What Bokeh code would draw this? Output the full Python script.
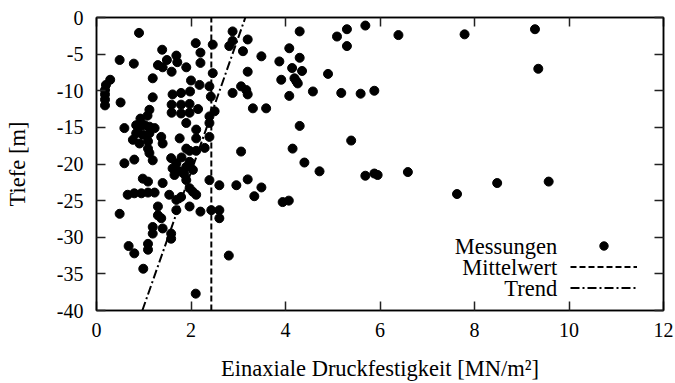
from bokeh.plotting import figure
from bokeh.models import Range1d, LinearAxis, FixedTicker, Legend, LegendItem, Label
from bokeh.embed import file_html
from bokeh.resources import INLINE

# ---- data ----
festigkeit = [
    0.90, 0.49, 0.79, 1.39, 1.49, 1.69, 1.71, 1.90, 1.30, 1.40, 1.59,
    2.10, 2.20, 2.20, 1.19, 0.29, 0.20, 0.18, 0.18, 0.18, 0.18, 0.51,
    1.19, 1.61, 1.79, 1.98, 2.00, 1.59, 1.79, 1.97, 1.12, 1.08, 0.93,
    1.59, 1.79, 1.97, 2.15,
    2.88, 2.88, 2.81, 3.20, 3.10, 2.46, 3.49, 3.87, 3.20, 3.91, 2.46,
    3.06, 3.17, 2.88, 3.20, 2.18, 2.39, 2.42, 3.31, 3.59, 2.50, 2.39,
    4.30, 5.09, 5.30, 5.69, 6.39, 7.79, 5.30, 4.08, 4.30, 4.14, 4.35,
    4.90, 4.19, 4.23, 4.26, 4.58, 4.08, 5.18, 5.59, 5.88, 4.30, 5.39, 4.15,
    9.28, 9.35, 7.63, 8.48, 9.57,
    4.40, 4.72, 5.69, 5.88, 5.95, 6.59, 3.94, 4.07,
    1.90, 2.11, 0.59, 0.84, 0.91, 1.02, 1.12, 1.23, 0.84, 0.98, 1.12,
    0.77, 0.91, 1.09, 1.37, 1.40, 1.09, 1.12, 1.19, 1.76, 1.90, 1.97,
    2.11, 2.11, 0.59, 0.80, 1.58, 1.69, 1.61, 1.76, 1.90, 1.97, 2.04,
    1.65, 1.80, 1.86, 0.98, 1.09, 1.40, 1.90, 1.97, 0.66, 0.80, 0.95,
    1.09, 1.23, 1.54, 1.69, 1.79, 2.11, 0.49, 1.30, 1.30, 1.69, 1.97,
    2.39, 2.39, 2.29, 3.06, 2.39, 2.60, 2.96, 3.20, 3.49, 3.34, 2.04,
    2.20, 2.43, 2.60, 2.60,
    1.37, 1.19, 1.40, 1.19, 1.58, 1.58, 0.68, 0.80, 1.09, 1.09, 0.99,
    2.10, 2.80,
]
tiefe = [
    -2.1, -5.8, -6.3, -4.4, -5.8, -5.2, -6.1, -6.8, -6.5, -6.8, -7.4,
    -3.5, -4.8, -6.2, -8.3, -8.5, -9.2, -9.9, -10.5, -11.2, -12.0, -11.6,
    -10.9, -10.5, -10.3, -10.1, -8.6, -11.9, -11.9, -11.8, -12.6, -13.4, -13.8,
    -13.0, -13.1, -13.0, -12.5,
    -1.9, -3.2, -3.9, -3.0, -4.6, -3.7, -5.3, -6.0, -7.4, -8.5, -7.6,
    -9.4, -9.9, -10.3, -10.5, -9.2, -9.4, -10.8, -12.4, -12.4, -12.8, -13.5,
    -1.9, -2.6, -1.6, -1.1, -2.4, -2.3, -3.9, -4.2, -5.5, -6.9, -7.3,
    -7.7, -8.3, -8.7, -9.0, -10.1, -10.7, -10.3, -10.4, -10.0, -14.8, -16.8, -17.9,
    -1.6, -7.0, -24.1, -22.6, -22.4,
    -19.8, -21.0, -21.6, -21.3, -21.5, -21.1, -25.2, -25.0,
    -14.4, -15.3, -15.1, -14.7, -14.9, -14.7, -14.9, -15.1, -15.8, -16.0, -15.8,
    -16.7, -17.2, -16.9, -16.3, -17.2, -17.9, -18.5, -19.5, -16.5, -17.9, -18.2,
    -18.2, -16.5, -19.9, -19.4, -19.2, -19.9, -20.6, -21.0, -20.4, -19.7, -20.8,
    -21.5, -19.1, -21.4, -22.0, -22.4, -22.6, -22.2, -23.3, -24.2, -24.0, -24.0,
    -23.9, -23.9, -24.2, -24.9, -24.5, -24.2, -26.8, -25.8, -27.0, -26.3, -25.8,
    -14.4, -16.3, -17.8, -18.3, -22.2, -22.9, -22.9, -22.1, -23.2, -24.4, -23.8,
    -26.5, -26.3, -26.3, -27.4,
    -27.4, -28.6, -28.8, -29.5, -29.5, -30.2, -31.2, -32.2, -30.9, -31.7, -34.3,
    -37.7, -32.5,
]
mittelwert = 2.43
trend_tiefe = [-40, 0]
trend_festigkeit = [0.97, 3.15]

x_ticks = [0, 2, 4, 6, 8, 10, 12]
y_ticks = [0, -5, -10, -15, -20, -25, -30, -35, -40]
y_tick_labels = ["0", "-5", "-10", "-15", "-20", "-25", "-30", "-35", "-40"]
legend_labels = ["Messungen", "Mittelwert", "Trend"]
x_title = "Einaxiale Druckfestigkeit [MN/m²]"
y_title = "Tiefe [m]"

FONT = "Liberation Serif"
TICK_FS = "20px"
LAB_FS = "22.5px"

p = figure(width=675, height=383, output_backend="svg", toolbar_location=None,
           x_range=Range1d(0, 12), y_range=Range1d(-40, 0),
           min_border_left=96, min_border_right=12, min_border_top=17,
           min_border_bottom=73)
p.background_fill_color = "white"
p.border_fill_color = "white"
p.outline_line_color = "black"
p.outline_line_width = 1.5
p.xgrid.visible = False
p.ygrid.visible = False

sc = p.scatter(festigkeit, tiefe, size=9, color="black")
mw = p.line([mittelwert, mittelwert], [y_ticks[-1], y_ticks[0]], color="black",
            line_width=2, line_dash="6 3")
tr = p.line(trend_festigkeit, trend_tiefe, color="black", line_width=2,
            line_dash="9 3 2 3")

def style_axis(ax, show_labels=True):
    ax.major_tick_in = 9
    ax.major_tick_out = 0
    ax.major_tick_line_color = "#222222"
    ax.major_tick_line_width = 1.5
    ax.minor_tick_line_color = None
    ax.axis_line_color = "black"
    ax.axis_line_width = 1.5
    ax.major_label_text_font = FONT
    if show_labels:
        ax.major_label_text_font_size = TICK_FS
        ax.major_label_text_color = "black"
    else:
        ax.major_label_text_font_size = "0px"
        ax.major_label_text_color = None

xa = p.xaxis[0]
xa.ticker = FixedTicker(ticks=x_ticks)
style_axis(xa)
xa.major_label_standoff = 12
xa.axis_label = x_title
xa.axis_label_text_font = FONT
xa.axis_label_text_font_style = "normal"
xa.axis_label_text_font_size = LAB_FS
xa.axis_label_text_color = "black"
xa.axis_label_standoff = 16

ya = p.yaxis[0]
ya.ticker = FixedTicker(ticks=y_ticks)
ya.major_label_overrides = {t: s for t, s in zip(y_ticks, y_tick_labels)}
style_axis(ya)
ya.major_label_standoff = 13
ya.axis_label = y_title
ya.axis_label_text_font = FONT
ya.axis_label_text_font_style = "normal"
ya.axis_label_text_font_size = LAB_FS
ya.axis_label_text_color = "black"
ya.axis_label_standoff = 24

top = LinearAxis(ticker=FixedTicker(ticks=x_ticks))
style_axis(top, show_labels=False)
p.add_layout(top, "above")
right = LinearAxis(ticker=FixedTicker(ticks=y_ticks))
style_axis(right, show_labels=False)
p.add_layout(right, "right")

# legend keys (glyph samples); the visible legend texts are Labels to their left
legend = Legend(items=[LegendItem(label="", renderers=[sc]),
                       LegendItem(label="", renderers=[mw]),
                       LegendItem(label="", renderers=[tr])],
                location=(474, 12), glyph_width=67, glyph_height=21,
                label_height=21, label_width=0, label_standoff=0, spacing=0,
                padding=0, margin=0, border_line_color=None,
                background_fill_alpha=0, label_text_color=None)
p.add_layout(legend)

legend_y = [-31.2, -34.1, -37.0]
for txt, ly in zip(legend_labels, legend_y):
    p.add_layout(Label(x=9.75, y=ly, text=txt, text_align="right",
                       text_baseline="middle", text_font=FONT,
                       text_font_size=LAB_FS, text_color="black"))

open("out.html", "w").write(file_html(p, INLINE))
